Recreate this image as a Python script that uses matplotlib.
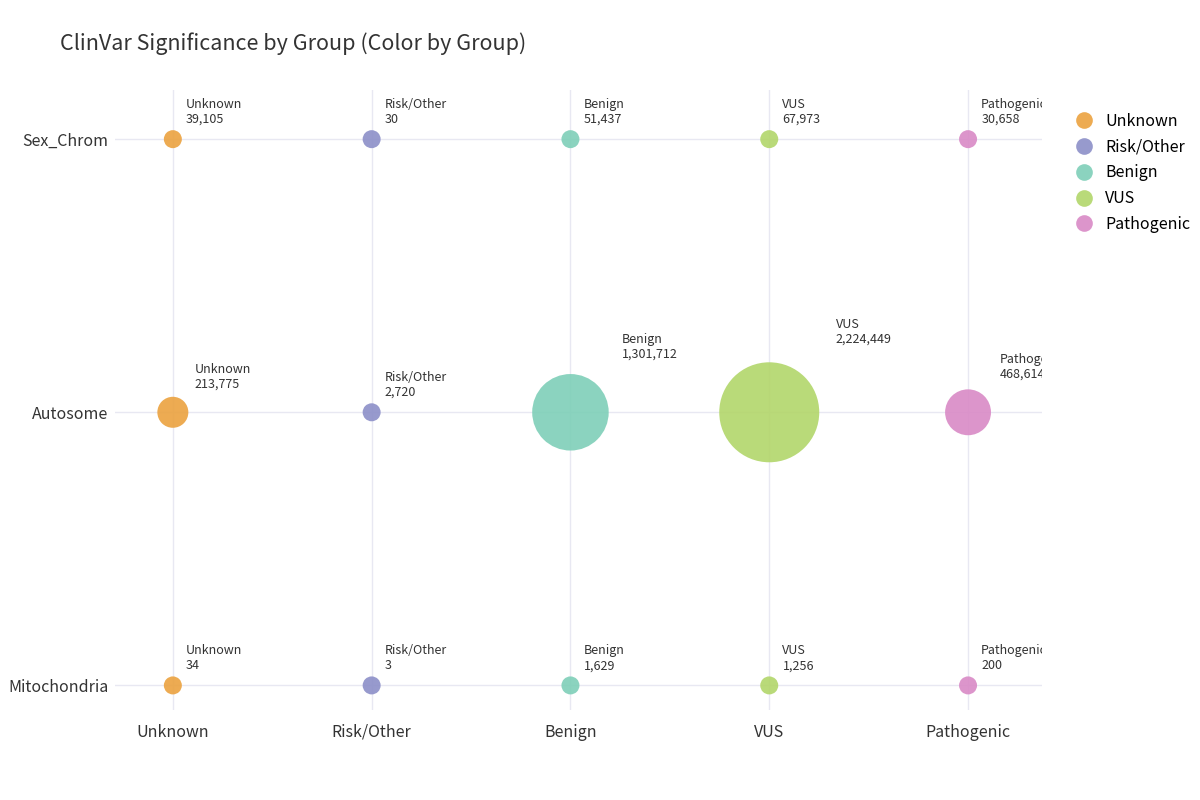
import numpy as np
import matplotlib
matplotlib.use("Agg")
import matplotlib.pyplot as plt
from matplotlib.lines import Line2D

plt.rcParams['font.family'] = ['Noto Sans CJK KR', 'DejaVu Sans']

groups = ["Unknown", "Risk/Other", "Benign", "VUS", "Pathogenic"]
rows = ["Mitochondria", "Autosome", "Sex_Chrom"]
colors = ["#EBA23F", "#8C8FC8", "#7ECFB8", "#B2D66A", "#D98AC6"]

sex_chrom = [39105, 30, 51437, 67973, 30658]
autosome = [213775, 2720, 1301712, 2224449, 468614]
mitochondria = [34, 3, 1629, 1256, 200]
counts = {"Sex_Chrom": sex_chrom, "Autosome": autosome, "Mitochondria": mitochondria}

fig = plt.figure(figsize=(12, 8), dpi=100)
ax = fig.add_axes([0.096, 0.1125, 0.772, 0.775])

px = 0.72  # points per pixel
max_v = max(autosome)
for ri, row in enumerate(rows):
    for gi, g in enumerate(groups):
        v = counts[row][gi]
        d = max(18.0, np.sqrt(v) / np.sqrt(max_v) * 100)
        ax.scatter(gi, ri, s=(d * px) ** 2, color=colors[gi], alpha=0.9,
                   edgecolors="none", zorder=3)
        off = (d / 2) * 1.3 + 1.5
        ax.annotate(f"{g}\n{v:,}", (gi, ri), xytext=(off * px, off * px),
                    textcoords="offset points", ha="left", va="bottom",
                    fontsize=9, color="#333333", linespacing=1.2,
                    annotation_clip=False, clip_on=True, zorder=4)

ax.set_xlim(-0.29, 4.37)
ax.set_ylim(-0.09, 2.18)
ax.set_xticks(range(len(groups)))
ax.set_xticklabels(groups, fontsize=11.5, color="#333333")
ax.set_yticks(range(len(rows)))
ax.set_yticklabels(rows, fontsize=11.5, color="#333333")
ax.tick_params(axis="y", length=0, pad=5)
ax.tick_params(axis="x", length=0, pad=10)
ax.grid(color="#E8E8F2", linewidth=1, zorder=0)
for s in ax.spines.values():
    s.set_visible(False)

fig.text(0.05, 0.945, "ClinVar Significance by Group (Color by Group)",
         fontsize=15.5, color="#333333", va="center")

handles = [Line2D([], [], marker="o", linestyle="none", markersize=12,
                  markerfacecolor=c, markeredgecolor="none", alpha=0.9)
           for c in colors]
fig.legend(handles, groups, loc="upper left", bbox_to_anchor=(0.885, 0.867),
           frameon=False, fontsize=11.5, handletextpad=0.3, labelspacing=0.55,
           borderaxespad=0)

fig.savefig("out.png", dpi=100)
